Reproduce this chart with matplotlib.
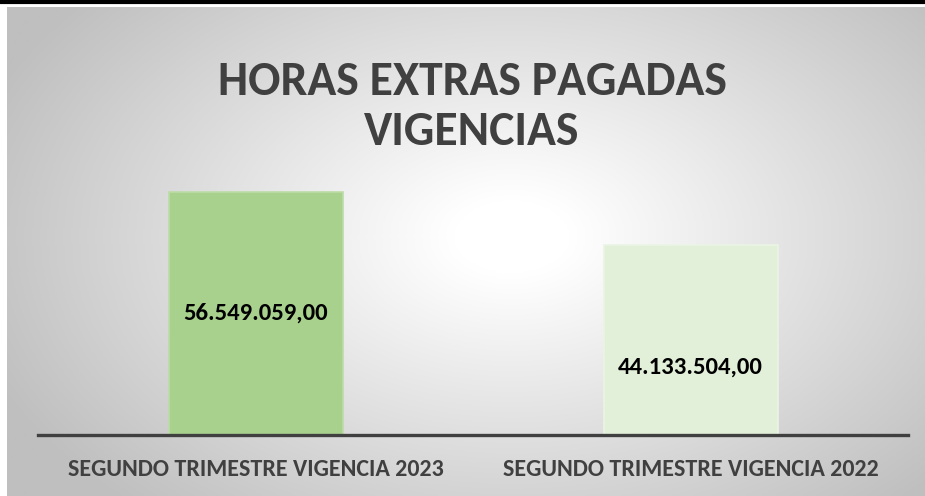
import numpy as np
import matplotlib
matplotlib.use("Agg")
import matplotlib.pyplot as plt
from matplotlib.lines import Line2D
from matplotlib.colors import LinearSegmentedColormap

categories = ["SEGUNDO TRIMESTRE VIGENCIA 2023", "SEGUNDO TRIMESTRE VIGENCIA 2022"]
values = [56549059.00, 44133504.00]
value_labels = ["56.549.059,00", "44.133.504,00"]
title = "HORAS EXTRAS PAGADAS\nVIGENCIAS"

W, H = 925, 496
fig = plt.figure(figsize=(W / 100, H / 100), dpi=100)
fig.patch.set_facecolor("white")

# gradient background panel
bg = fig.add_axes([7 / W, 0, 1 - 7 / W, (H - 7) / H])
bg.set_axis_off()
nx, ny = 460, 245
xx, yy = np.meshgrid(np.linspace(0, 1, nx), np.linspace(0, 1, ny))
r = np.sqrt(((xx - 0.55) / 0.62) ** 2 + ((yy - 0.47) / 0.75) ** 2)
t = np.clip((r - 0.1) / 0.9, 0, 1)
cmap = LinearSegmentedColormap.from_list("g", ["#ffffff", "#bfbfbf"])
bg.imshow(t, cmap=cmap, vmin=0, vmax=1, aspect="auto", extent=(0, 1, 1, 0), interpolation="bilinear")

# top black rule
fig.add_artist(Line2D([0, 1], [1 - 2 / H, 1 - 2 / H], color="black", lw=3, transform=fig.transFigure))

font = "Carlito"
ax = fig.add_axes([38 / W, 61 / H, 870 / W, 385 / H])
ax.patch.set_alpha(0)
colors = ["#a9d18e", "#e2efd9"]
edges = ["#bcdca7", "#eaf4e4"]
x = np.arange(len(categories))
bars = ax.bar(x, values, width=0.4, color=colors, edgecolor=edges, linewidth=1.2, zorder=2)
ax.set_xlim(-0.5, 1.5)
ax.set_ylim(0, 89.6e6)
for s in ["top", "left", "right"]:
    ax.spines[s].set_visible(False)
ax.spines["bottom"].set_color("#404040")
ax.spines["bottom"].set_linewidth(2.4)
ax.spines["bottom"].set_zorder(3)
ax.set_yticks([])
ax.set_xticks(x)
ax.set_xticklabels(categories, fontfamily=font, fontweight="bold", fontsize=17.3, color="#404040")
ax.tick_params(axis="x", length=0, pad=17)

label_frac = [0.5, 0.36]
for xi, v, lab, f in zip(x, values, value_labels, label_frac):
    ax.text(xi, v * f, lab, ha="center", va="center", fontfamily=font, fontweight="bold",
            fontsize=17.8, color="black", zorder=4)

fig.text(472 / W, 1 - 107 / H, title, ha="center", va="center", fontfamily=font,
         fontweight="bold", fontsize=34.4, color="#404040", linespacing=1.26)

fig.savefig("out.png", dpi=100)
